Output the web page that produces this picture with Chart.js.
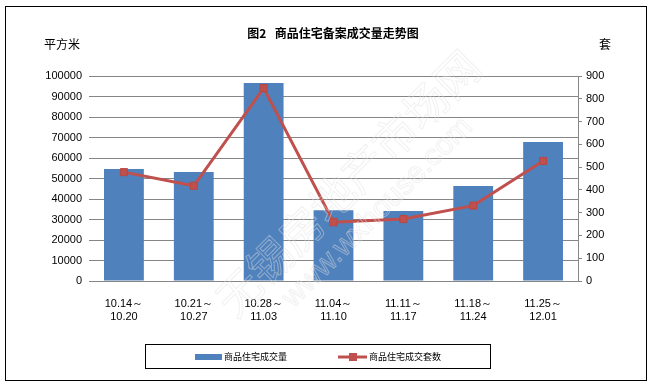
<!DOCTYPE html>
<html>
<head>
<meta charset="utf-8">
<script src="https://cdn.jsdelivr.net/npm/chart.js@4/dist/chart.umd.min.js"></script>
<style>
  html, body { margin: 0; padding: 0; background: #fff; }
  #wrap { width: 653px; height: 387px; }
</style>
</head>
<body>
<div id="wrap"><canvas id="myChart" width="653" height="387"></canvas></div>
<script>
var weeks = [
  ["10.14～", "10.20"],
  ["10.21～", "10.27"],
  ["10.28～", "11.03"],
  ["11.04～", "11.10"],
  ["11.11～", "11.17"],
  ["11.18～", "11.24"],
  ["11.25～", "12.01"]
];
var areaSold = [54600, 53200, 96600, 34500, 34100, 46300, 67800];
var unitsSold = [478, 418, 847, 258, 272, 331, 527];
var areaName = "商品住宅成交量";
var unitsName = "商品住宅成交套数";

var numFont = { family: "'Liberation Sans', Arial, sans-serif", size: 11 };
var cjk = "'Noto Sans CJK SC', sans-serif";

// title, units, frame, legend box, watermark
var decor = {
  id: "decor",
  beforeDraw: function (chart) {
    var ctx = chart.ctx;
    ctx.save();
    ctx.fillStyle = "#fff";
    ctx.fillRect(0, 0, chart.width, chart.height);
    ctx.restore();
  },
  afterDatasetsDraw: function (chart) {
    var ctx = chart.ctx;
    ctx.save();
    ctx.translate(355, 190);
    ctx.rotate(-Math.PI / 4);
    ctx.font = "44px " + cjk;
    ctx.textAlign = "center";
    ctx.textBaseline = "middle";
    ctx.strokeStyle = "rgba(225,225,225,0.45)";
    ctx.lineWidth = 1;
    ctx.strokeText("无锡房地产市场网", 0, -10);
    ctx.font = "30px 'Liberation Sans', sans-serif";
    ctx.strokeText("www.wxhouse.com", 0, 32);
    ctx.restore();
  },
  afterDraw: function (chart) {
    var ctx = chart.ctx;
    ctx.save();
    ctx.strokeStyle = "#000";
    ctx.lineWidth = 1;
    ctx.strokeRect(5.5, 6.5, 641, 374);

    ctx.fillStyle = "#000";
    ctx.textBaseline = "middle";
    ctx.textAlign = "center";
    ctx.font = "bold 12px " + cjk;
    ctx.fillText("图2   商品住宅备案成交量走势图", 333, 33);
    ctx.font = "12px " + cjk;
    ctx.fillText("平方米", 62, 44);
    ctx.fillText("套", 605, 44);

    // legend
    ctx.strokeRect(145.5, 344.5, 345, 24);
    ctx.fillStyle = "#4F81BD";
    ctx.fillRect(195, 354, 27, 6);
    ctx.strokeStyle = "#C0504D";
    ctx.lineWidth = 3;
    ctx.beginPath();
    ctx.moveTo(338, 357);
    ctx.lineTo(367, 357);
    ctx.stroke();
    ctx.fillStyle = "#C0504D";
    ctx.fillRect(349, 353, 8, 8);
    ctx.fillStyle = "#000";
    ctx.textAlign = "left";
    ctx.font = "9px " + cjk;
    ctx.fillText(areaName, 224, 357);
    ctx.fillText(unitsName, 369, 357);
    ctx.restore();
  }
};

new Chart(document.getElementById("myChart"), {
  data: {
    labels: weeks,
    datasets: [
      {
        type: "line",
        label: unitsName,
        data: unitsSold,
        yAxisID: "y2",
        borderColor: "#C0504D",
        backgroundColor: "#C0504D",
        borderWidth: 3,
        pointStyle: "rect",
        pointRadius: 5,
        pointBorderWidth: 1,
        pointBorderColor: "#B84744",
        tension: 0,
        order: 0
      },
      {
        type: "bar",
        label: areaName,
        data: areaSold,
        yAxisID: "y",
        backgroundColor: "#4F81BD",
        categoryPercentage: 1,
        barPercentage: 0.57,
        order: 1
      }
    ]
  },
  options: {
    responsive: false,
    animation: false,
    layout: { padding: { top: 76, bottom: 66, left: 0, right: 0 } },
    plugins: { legend: { display: false }, title: { display: false }, tooltip: { enabled: false } },
    scales: {
      x: {
        grid: { display: false },
        border: { display: true, color: "#868686" },
        ticks: { color: "#000", font: numFont, maxRotation: 0, padding: 8 },
        afterFit: function (s) { s.height = 40; }
      },
      y: {
        position: "left",
        min: 0, max: 100000,
        ticks: { stepSize: 10000, color: "#000", font: numFont, padding: 7,
                 callback: function (v) { return String(v); } },
        grid: { color: "#868686", drawTicks: false },
        border: { display: false },
        afterFit: function (s) { s.width = 89; }
      },
      y2: {
        position: "right",
        min: 0, max: 900,
        ticks: { stepSize: 100, color: "#000", font: numFont, padding: 4,
                 callback: function (v) { return String(v); } },
        grid: { drawOnChartArea: false, drawTicks: true, tickLength: 4, color: "#868686" },
        border: { display: true, color: "#868686" },
        afterFit: function (s) { s.width = 75; }
      }
    }
  },
  plugins: [decor]
});
</script>
</body>
</html>
